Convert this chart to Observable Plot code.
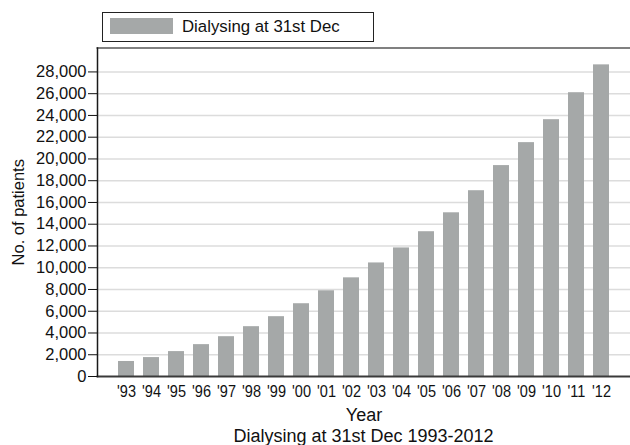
<!DOCTYPE html>
<html>
<head>
<meta charset="utf-8">
<script src="https://cdn.jsdelivr.net/npm/d3@7"></script>
<script src="https://cdn.jsdelivr.net/npm/@observablehq/plot@0.6"></script>
<style>
  html, body { margin: 0; padding: 0; background: #fff; }
  body { width: 630px; height: 445px; overflow: hidden; font-family: "Liberation Sans", Arial, sans-serif; color: #111; }
  #legend { position: relative; height: 40px; }
  #legend .box { position: absolute; left: 102px; top: 12px; width: 270px; height: 28px; border: 1px solid #222; }
  #legend .sw { position: absolute; left: 7px; top: 5px; width: 63px; height: 16px; }
  #legend .lab { position: absolute; left: 79px; top: 0; line-height: 28px; font-size: 16.8px; white-space: nowrap; }
  #caption { height: 20px; line-height: 20px; font-size: 18px; padding-left: 97px; text-align: center; white-space: nowrap; }
  #chart svg { display: block; }
</style>
</head>
<body>
<div id="legend"><div class="box"><div class="sw"></div><div class="lab"></div></div></div>
<div id="chart"></div>
<div id="caption"></div>
<script>
// ---- data ----
const years = ["'93","'94","'95","'96","'97","'98","'99","'00","'01","'02","'03","'04","'05","'06","'07","'08","'09","'10","'11","'12"];
const patients = [1380, 1740, 2290, 2930, 3660, 4580, 5500, 6690, 7880, 9070, 10440, 11820, 13310, 15050, 17080, 19390, 21500, 23610, 26090, 28650];
const yTicks = [0, 2000, 4000, 6000, 8000, 10000, 12000, 14000, 16000, 18000, 20000, 22000, 24000, 26000, 28000];
const yMax = 30200;
const seriesName = "Dialysing at 31st Dec";
const xTitle = "Year";
const yTitle = "No. of patients";
const captionText = "Dialysing at 31st Dec 1993-2012";

const barColor = "#a5a8a8";
const data = years.map((y, i) => ({year: y, value: patients[i]}));

document.querySelector("#legend .sw").style.background = barColor;
document.querySelector("#legend .lab").textContent = seriesName;
document.getElementById("caption").textContent = captionText;

const plot = Plot.plot({
  width: 630,
  height: 386,
  marginTop: 7.5,
  marginBottom: 50,
  marginLeft: 97,
  marginRight: 0,
  style: {fontFamily: "Liberation Sans, Arial, sans-serif", fontSize: "16px", color: "#111", background: "#fff"},
  x: {type: "band", domain: years, paddingInner: 0.37, paddingOuter: 0.75, align: 0.5},
  y: {domain: [0, yMax]},
  marks: [
    Plot.ruleY(yTicks.slice(1), {stroke: "#dcdcdc", strokeWidth: 1.6}),
    Plot.barY(data, {x: "year", y: "value", fill: barColor}),
    Plot.frame({anchor: "top", stroke: "#808080", strokeWidth: 2}),
    Plot.frame({anchor: "bottom", stroke: "#3a3a3a", strokeWidth: 1.8}),
    Plot.frame({anchor: "left", stroke: "#1a1a1a", strokeWidth: 1.5}),
    Plot.axisY({ticks: yTicks, tickFormat: d3.format(","), tickSize: 9, tickPadding: 2, fontSize: 16.5,
      label: yTitle, labelAnchor: "center", labelArrow: "none", labelOffset: 85}),
    Plot.axisX({tickSize: 0, tickPadding: 9, fontSize: 16.5, label: xTitle, labelAnchor: "center", labelArrow: "none", labelOffset: 44.5})
  ]
});
document.getElementById("chart").appendChild(plot);

// condense the x tick labels horizontally as in the reference (positions untouched)
plot.querySelectorAll('g[aria-label="x-axis tick label"] text').forEach(t => {
  t.setAttribute("font-size", "16.5");
  const len = t.getComputedTextLength();
  t.setAttribute("textLength", (len * 0.88).toFixed(2));
  t.setAttribute("lengthAdjust", "spacingAndGlyphs");
});
plot.querySelectorAll('g[aria-label="x-axis label"] text').forEach(t => t.setAttribute("font-size", "18"));
plot.querySelectorAll('g[aria-label="y-axis label"] text').forEach(t => t.setAttribute("font-size", "16.5"));
</script>
</body>
</html>
